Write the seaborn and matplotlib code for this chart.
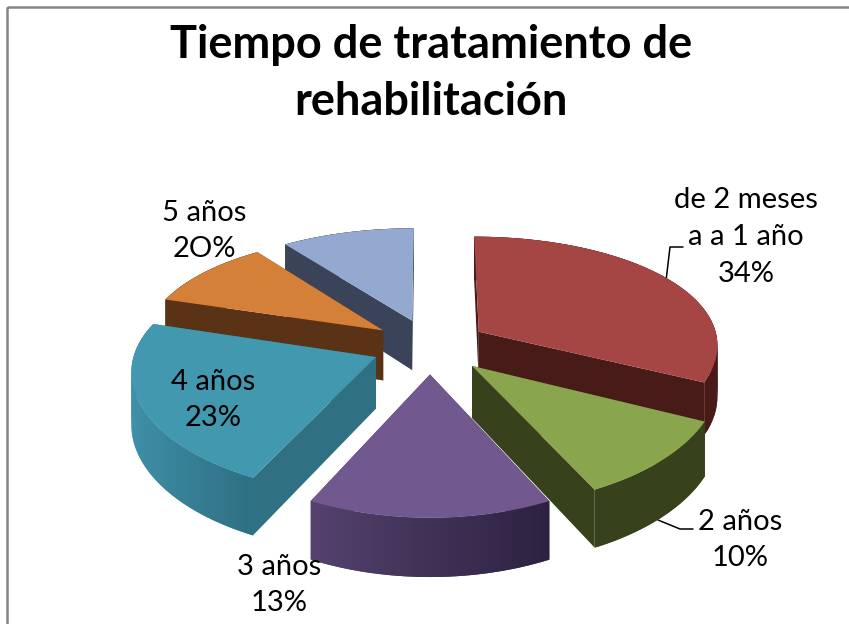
import numpy as np
import matplotlib.pyplot as plt
from matplotlib.patches import Rectangle
from matplotlib.colors import to_rgb
import seaborn as sns

# drawn slice sizes (the printed labels do not match them in the original)
categories = ['de 2 meses\na a 1 año', '2 años', '3 años', '4 años', '5 años', '']
slice_sizes = [32.2, 10.6, 14.4, 22.6, 10.1, 10.1]
label_pct = ['34%', '10%', '13%', '23%', '2O%', '']

top_colors = ['#A54644', '#89A54E', '#71588F', '#4198AF', '#D58039', '#93A9CF']
cut_colors = ['#481A18', '#37421C', '#3A2D52', '#2F7083', '#5A3316', '#3A4358']
wall_from = ['#481A18', '#37421C', '#2C2140', '#2F7083', '#5A3316', '#3A4358']
wall_to = ['#481A18', '#37421C', '#54426E', '#4092AB', '#5A3316', '#3A4358']

draw_order = [5, 4, 0, 3, 1, 2]

# camera of the fake 3d pie
EXPLODE = 0.243
RX = 240
DIST_X = 9.5
RY = 768
DIST_Y = 6.8
WALL = 51
CX, CY = 430, 346


def project(x, y, z=0.0):
    sx = CX + RX * x * DIST_X / (DIST_X + y)
    sy = CY - RY * y / (DIST_Y + y) + z * WALL * (1 - 0.13 * y)
    return sx, sy


def mix(c1, c2, t):
    a, b = np.array(to_rgb(c1)), np.array(to_rgb(c2))
    return tuple(a + (b - a) * t)


def draw_slice(ax, t1, t2, i):
    mid = np.radians((t1 + t2) / 2)
    ox, oy = EXPLODE * np.cos(mid), EXPLODE * np.sin(mid)
    th = np.radians(np.linspace(t1, t2, 80))
    gx = ox + np.cos(th)
    gy = oy + np.sin(th)

    faces = []
    # outer wall in strips that overlap, so no seams show between them
    lo, hi = gx.min(), gx.max()
    for k in range(len(th) - 1):
        k2 = min(k + 2, len(th) - 1)
        xs = [gx[k], gx[k2]]
        ys = [gy[k], gy[k2]]
        t = (np.mean(xs) - lo) / (hi - lo)
        faces.append((np.mean(ys), xs, ys, mix(wall_to[i], wall_from[i], t)))
    # the two cut faces
    for e in (0, -1):
        faces.append(((oy + gy[e]) / 2, [ox, gx[e]], [oy, gy[e]], cut_colors[i]))

    for _, xs, ys, col in sorted(faces, key=lambda f: -f[0]):
        x0, y0 = project(xs[0], ys[0])
        x1, y1 = project(xs[1], ys[1])
        x2, y2 = project(xs[1], ys[1], 1)
        x3, y3 = project(xs[0], ys[0], 1)
        ax.fill([x0, x1, x2, x3], [y0, y1, y2, y3], color=col, lw=0)

    px, py = project(np.r_[ox, gx], np.r_[oy, gy])
    ax.fill(px, py, color=top_colors[i], lw=0)


sns.set_theme(style='white')
plt.rcParams['font.family'] = ['Lato', 'DejaVu Sans']

fig = plt.figure(figsize=(8.49, 6.24), dpi=100)
ax = fig.add_axes([0, 0, 1, 1])
ax.set_xlim(0, 849)
ax.set_ylim(624, 0)
ax.axis('off')

# chart frame, cropped on the right and at the bottom in the original
ax.add_patch(Rectangle((7, 7), 900, 700, fill=False, ec='#868686', lw=1.8))

angles = 90 - np.cumsum([0] + slice_sizes) * 3.6
for i in draw_order:
    draw_slice(ax, angles[i + 1], angles[i], i)

ax.text(431, 45, 'Tiempo de tratamiento de', ha='center', va='center',
        fontsize=32.5, fontweight='bold', color='black')
ax.text(431, 102, 'rehabilitación', ha='center', va='center',
        fontsize=32.5, fontweight='bold', color='black')

# leader lines
ax.plot([666, 670, 683], [281, 247, 247], color='black', lw=1.1, zorder=0)
ax.plot([658, 680, 693], [520, 529, 529], color='black', lw=1.1, zorder=0)

label_pos = [(746, 237), (740, 540), (279, 585), (213, 400), (204, 231), None]
for i, pos in enumerate(label_pos):
    if pos is None:
        continue
    ax.text(pos[0], pos[1], categories[i] + '\n' + label_pct[i], ha='center', va='center',
            fontsize=21, color='black', linespacing=1.5)

fig.savefig('out.png', dpi=100)
